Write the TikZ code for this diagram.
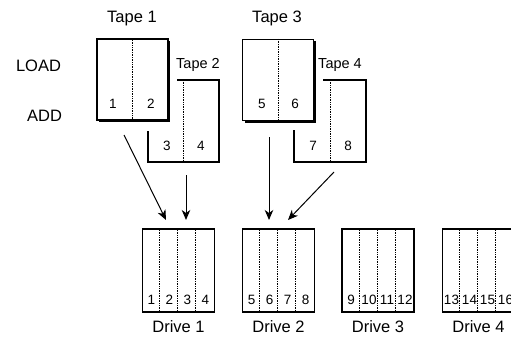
\documentclass[tikz,border=0pt]{standalone}
\usepackage{fontspec}
\setmainfont{Liberation Sans}
\usetikzlibrary{arrows.meta,shadows}
\begin{document}
\begin{tikzpicture}[x=1pt,y=-1pt,
  big/.style={font=\fontsize{16.5}{18}\selectfont, inner sep=0pt},
  mid/.style={font=\fontsize{14.5}{16}\selectfont, inner sep=0pt},
  num/.style={font=\fontsize{13.5}{14}\selectfont, inner sep=0pt},
  tapebox/.style={draw, line width=1.2pt, fill=white, inner sep=0pt,
    minimum width=71pt, minimum height=81pt,
    drop shadow={shadow xshift=2pt, shadow yshift=-2pt, fill=black, opacity=1}},
  drivebox/.style={draw, line width=1.3pt, fill=white, inner sep=0pt,
    minimum width=72pt, minimum height=83pt},
  openline/.style={line width=1.2pt},
  dotln/.style={line width=0.8pt, dash pattern=on 0.8pt off 0.9pt},
  arr/.style={line width=1pt, -{Stealth[length=10pt,width=8.5pt,inset=3pt]}}
]
\clip (0,0) rectangle (511,337);
\fill[white] (0,0) rectangle (511,337);

% side labels
\node[big] (load) at (38.5,66) {LOAD};
\node[big] (add) at (44.5,116) {ADD};

% Tape 1
\node[tapebox] (t1) at (132.5,79.5) {};
\draw[dotln] (t1.north) -- (t1.south);
\node[big] (t1l) at (132,18.5) {Tape 1};
\node[num] (n1) at (113,104) {1};
\node[num] (n2) at (151,104) {2};

% Tape 2
\coordinate (t2a) at (177,80);
\coordinate (t2b) at (219,80);
\coordinate (t2c) at (219,162);
\coordinate (t2d) at (148,162);
\coordinate (t2e) at (148,131);
\draw[openline] (t2a) -- (t2b) -- (t2c) -- (t2d) -- (t2e);
\coordinate (t2top) at (183,80);
\coordinate (t2bot) at (183,162);
\draw[dotln] (t2top) -- (t2bot);
\node[mid] (t2l) at (198,65) {Tape 2};
\node[num] (n3) at (167,146) {3};
\node[num] (n4) at (201,146) {4};

% Tape 3
\node[tapebox] (t3) at (278,80) {};
\draw[dotln] (t3.north) -- (t3.south);
\node[big] (t3l) at (277,18.5) {Tape 3};
\node[num] (n5) at (262,104) {5};
\node[num] (n6) at (295,104) {6};

% Tape 4
\coordinate (t4a) at (323,80);
\coordinate (t4b) at (366,80);
\coordinate (t4c) at (366,162);
\coordinate (t4d) at (294,162);
\coordinate (t4e) at (294,130);
\draw[openline] (t4a) -- (t4b) -- (t4c) -- (t4d) -- (t4e);
\coordinate (t4top) at (330,80);
\coordinate (t4bot) at (330,162);
\draw[dotln] (t4top) -- (t4bot);
\node[mid] (t4l) at (340,65) {Tape 4};
\node[num] (n7) at (313,146) {7};
\node[num] (n8) at (348,146) {8};

% Drives
\foreach \k/\cx/\a/\b/\c/\d in {1/178.5/1/2/3/4, 2/278.5/5/6/7/8, 3/378/9/10/11/12, 4/478.5/13/14/15/16}{
  \node[drivebox] (d\k) at (\cx,270.5) {};
  \foreach \j in {1,2,3}{
    \draw[dotln] ([xshift=\j*18pt]d\k.north west) -- ([xshift=\j*18pt]d\k.south west);
  }
  \node[num] (d\k a) at (\cx-27,300) {\a};
  \node[num] (d\k b) at (\cx-9,300) {\b};
  \node[num] (d\k c) at (\cx+9,300) {\c};
  \node[num] (d\k d) at (\cx+27,300) {\d};
  \node[big] (d\k l) at (\cx,327) {Drive \k};
}

% Arrows
\coordinate (a1s) at (124,135);
\coordinate (a1e) at (166,220);
\coordinate (a2s) at (186,175);
\coordinate (a2e) at (186,220);
\coordinate (a3s) at (269,137);
\coordinate (a3e) at (269,220);
\coordinate (a4s) at (334,172);
\coordinate (a4e) at (288,220);
\draw[arr] (a1s) -- (a1e);
\draw[arr] (a2s) -- (a2e);
\draw[arr] (a3s) -- (a3e);
\draw[arr] (a4s) -- (a4e);
\end{tikzpicture}
\end{document}
